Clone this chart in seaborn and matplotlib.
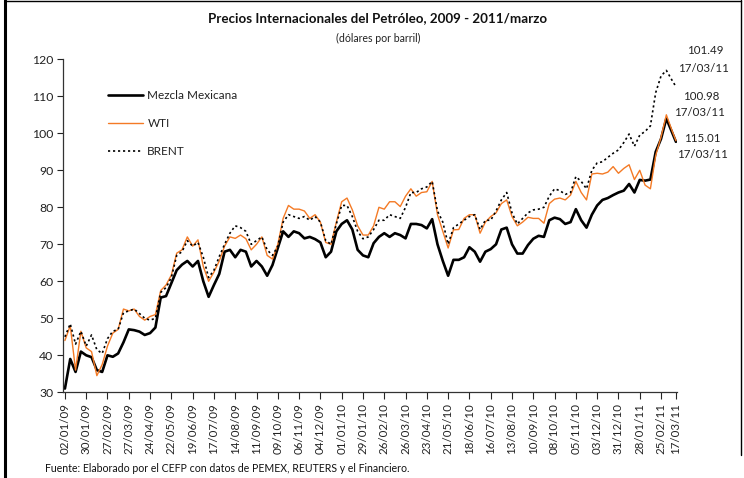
import numpy as np
import pandas as pd
import matplotlib
matplotlib.use("Agg")
import matplotlib.pyplot as plt
from matplotlib.lines import Line2D
import seaborn as sns

sns.set_style("white")
plt.rcParams['font.family'] = ['Lato', 'DejaVu Sans']

# ---- data (weekly readings from the chart, last point = 17/03/11) ----
wti = [44, 48, 36, 46.5, 42, 41, 34.5, 37.5, 42.5, 46,
       47, 52.5, 52, 52.5, 50.5, 49.5, 50.5, 51, 57.5, 59,
       61.7, 67.6, 68.5, 72, 69.5, 71.2, 64, 60, 62.5, 65.5,
       69.5, 72, 71.6, 72.5, 71.5, 68.5, 70, 72, 67, 66,
       70, 77, 80.5, 79.5, 79.5, 79, 77, 78, 76, 70.5,
       70, 76, 81.5, 82.5, 79.3, 75, 72.5, 72.5, 75, 80,
       79.5, 81.5, 81.5, 80.2, 83, 85, 83, 84, 84.2, 87,
       78, 73.5, 69, 73.9, 74, 77, 78, 78, 73, 76,
       77.5, 78.5, 81, 82, 77.5, 75, 76, 77.3, 77, 77,
       75.7, 81, 82.2, 82.5, 82, 83.3, 87, 84, 82, 89,
       89.2, 89, 89.5, 91, 89.2, 90.5, 91.5, 87.5, 90, 86,
       85, 94, 99, 105, 101, 98]

mezcla = [31, 39, 35.5, 41, 40, 39.5, 36, 35.5, 40, 39.6,
          40.5, 43.5, 47, 46.8, 46.4, 45.5, 46, 47.5, 55.6, 56,
          59.5, 63, 64.5, 65.5, 64, 65.5, 60, 55.8, 59, 62,
          68, 68.5, 66.5, 68.5, 68, 64, 65.5, 64, 61.5, 64.4,
          69, 73.5, 72, 73.5, 73, 71.6, 72, 71.4, 70.5, 66.5,
          68, 73.5, 75.5, 76.5, 74, 68.5, 67, 66.5, 70.3, 72,
          73, 72, 73, 72.5, 71.6, 75.5, 75.5, 75.2, 74.3, 76.8,
          70, 65.5, 61.5, 65.8, 65.8, 66.5, 69.2, 68, 65.3, 68,
          68.7, 70, 74, 74.5, 70, 67.5, 67.5, 69.8, 71.5, 72.3,
          72, 76.5, 77.2, 76.8, 75.5, 76, 79.5, 76.5, 74.5, 78,
          80.5, 82, 82.5, 83.3, 84, 84.5, 86.3, 84, 87.4, 87.2,
          87.5, 95, 98.5, 104, 100.5, 97.7]

brent = [45, 48.5, 43, 46.5, 42.5, 45.5, 41.5, 40.5, 44.5, 46.5,
         47, 51.5, 52, 52.5, 51.3, 50, 49.5, 50, 57, 58.3,
         61, 67, 68, 71, 69.5, 70.5, 66.5, 61, 63, 66.7,
         70, 73, 75, 74.5, 73.5, 70, 71, 72, 68.5, 67,
         69.5, 76, 78, 77.5, 77, 77.5, 76.5, 77.5, 76, 71,
         70, 75.5, 80.5, 80.5, 77.5, 73.5, 71.5, 72, 74, 76.5,
         76.5, 78, 77.5, 77, 80, 84, 84, 85, 85.5, 87,
         79, 76, 70, 74.5, 75.5, 76.5, 77.5, 78, 74, 76.5,
         76.5, 79, 82, 84, 78.5, 75.5, 77, 78.5, 79.3, 79.5,
         80, 83, 85, 84.5, 83.5, 84, 88.3, 87, 85, 90,
         92, 92.3, 93.5, 94.6, 95.5, 97.5, 99.8, 96.5, 99.5, 100.5,
         102, 111, 115.5, 117, 114.5, 112.6]

end_labels = [("101.49", "17/03/11"), ("100.98", "17/03/11"), ("115.01", "17/03/11")]
title = "Precios Internacionales del Petróleo, 2009 - 2011/marzo"
subtitle = "(dólares por barril)"
source = "Fuente: Elaborado por el CEFP con datos de PEMEX, REUTERS y el Financiero."

# ---- category axis: trading days ----
days = pd.bdate_range("2009-01-02", "2011-03-17")
n = len(days)
sample_idx = list(range(0, n - 4, 5)) + [n - 1]
tick_idx = list(range(0, n - 14, 20)) + [n - 1]
tick_lab = [d.strftime("%d/%m/%y") for d in days[tick_idx]]

df = pd.DataFrame({"pos": sample_idx, "Mezcla Mexicana": mezcla,
                   "WTI": wti, "BRENT": brent})

W, H = 744, 478
fig = plt.figure(figsize=(W / 100, H / 100), dpi=100)
ax = fig.add_axes([63 / W, 1 - 392.3 / H, 614 / W, 333 / H])

sns.lineplot(data=df, x="pos", y="Mezcla Mexicana", ax=ax, color="black",
             lw=1.9, label="Mezcla Mexicana")
sns.lineplot(data=df, x="pos", y="WTI", ax=ax, color="#F47A25",
             lw=1.0, label="WTI")
sns.lineplot(data=df, x="pos", y="BRENT", ax=ax, color="black",
             lw=1.2, linestyle=(0, (1.3, 1.7)), label="BRENT")

ax.set_xlim(-1.8, 575)
ax.set_ylim(30, 120)
ax.set_yticks(np.arange(30, 121, 10))
ax.set_xticks(tick_idx)
ax.set_xticklabels(tick_lab, rotation=90, fontsize=8.3, color="#222222")
ax.tick_params(axis="y", labelsize=8.8, colors="#222222", direction="out",
               length=4, width=0.8, left=True, pad=3)
ax.tick_params(axis="x", direction="out", length=5, width=0.8, bottom=True, pad=3)
ax.set_xlabel("")
ax.set_ylabel("")
for s in ["top", "right"]:
    ax.spines[s].set_visible(False)
for s in ["left", "bottom"]:
    ax.spines[s].set_color("#333333")
    ax.spines[s].set_linewidth(0.9)
ax.grid(False)

leg = ax.legend(loc="upper left", bbox_to_anchor=(0.073, 0.908), frameon=False,
                borderpad=0, borderaxespad=0, handlelength=3.0, handletextpad=0.35,
                labelspacing=1.45, fontsize=8.5)
for t in leg.get_texts():
    t.set_color("#222222")

# end labels
pos = [(705, 51, 703, 68), (701, 96, 699, 112), (702, 138, 702, 154)]
for (v, d), (x1, y1, x2, y2) in zip(end_labels, pos):
    fig.text(x1 / W, 1 - y1 / H, v, ha="center", va="center", fontsize=8.3, color="#222222")
    fig.text(x2 / W, 1 - y2 / H, d, ha="center", va="center", fontsize=8.3, color="#222222")

fig.text(378 / W, 1 - 18 / H, title, ha="center", va="center", fontsize=9.6,
         fontweight="bold", color="#111111")
fig.text(378 / W, 1 - 38 / H, subtitle, ha="center", va="center", fontsize=7.6,
         color="#222222")
fig.text(45 / W, 1 - 468 / H, source, ha="left", va="center", fontsize=7.6,
         color="#111111")

# outer frame
fig.add_artist(Line2D([5 / W, 5 / W], [0, 1], color="black", lw=2.2))
fig.add_artist(Line2D([5 / W, 741 / W], [1 - 1 / H, 1 - 1 / H], color="black", lw=1.0))
fig.add_artist(Line2D([741 / W, 741 / W], [1 - 455 / H, 1], color="black", lw=1.0))

fig.savefig("out.png", dpi=100)
